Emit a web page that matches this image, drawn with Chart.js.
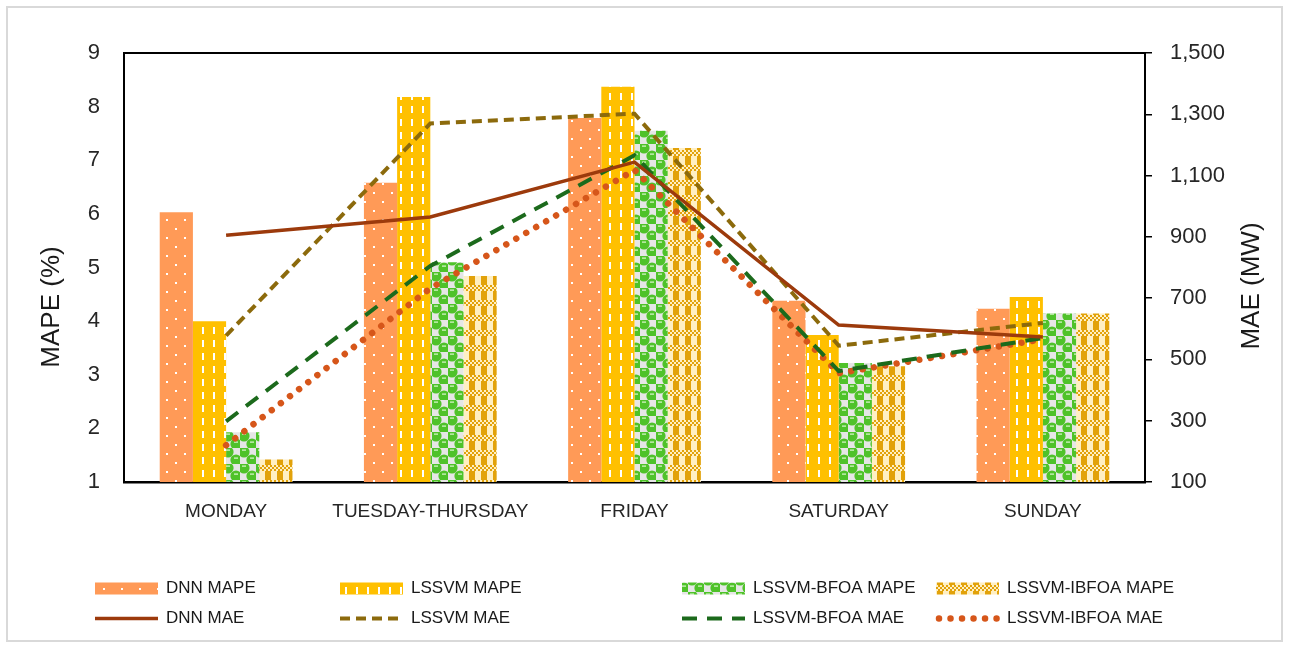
<!DOCTYPE html>
<html>
<head>
<meta charset="utf-8">
<script src="https://cdn.jsdelivr.net/npm/chart.js@4.4.1/dist/chart.umd.min.js"></script>
<style>
  html, body { margin: 0; padding: 0; background: #fff; }
  #c { display: block; }
</style>
</head>
<body>
<canvas id="c" width="1289" height="647"></canvas>
<script>
// Day-type groups
const categories = ['MONDAY', 'TUESDAY-THURSDAY', 'FRIDAY', 'SATURDAY', 'SUNDAY'];

// MAPE (%) per model
const dnnMape   = [6.03, 6.58, 7.79, 4.38, 4.23];
const lssvmMape = [4.00, 8.18, 8.37, 3.74, 4.45];
const bfoaMape  = [1.93, 5.10, 7.55, 3.22, 4.14];
const ibfoaMape = [1.42, 4.84, 7.23, 3.16, 4.14];

// MAE (MW) per model
const dnnMae   = [905, 965, 1144, 612, 573];
const lssvmMae = [578, 1270, 1302, 545, 619];
const bfoaMae  = [298, 805, 1166, 462, 570];
const ibfoaMae = [220, 732, 1118, 455, 566];

// Axis ranges
const mapeTicks = { min: 1, max: 9, step: 1 };
const maeTicks  = { min: 100, max: 1500, step: 200 };

const FONT = '"Liberation Sans", Arial, sans-serif';
const canvas = document.getElementById('c');
const ctx = canvas.getContext('2d');

function makePattern(w, h, paint) {
  const pc = document.createElement('canvas');
  pc.width = w; pc.height = h;
  paint(pc.getContext('2d'), w, h);
  return ctx.createPattern(pc, 'repeat');
}

// Orange with small white dots
const dnnFill = makePattern(18, 18, g => {
  g.fillStyle = '#FF9A57'; g.fillRect(0, 0, 18, 18);
  g.fillStyle = '#FFFFFF';
  g.fillRect(4, 3, 2, 2); g.fillRect(13, 12, 2, 2);
});
// Gold with white vertical dashes
const lssvmFill = makePattern(11, 13, g => {
  g.fillStyle = '#FFC000'; g.fillRect(0, 0, 11, 13);
  g.fillStyle = '#FFFFFF';
  g.fillRect(4, 2, 2, 7);
});
// Green spheres on a light grey checker
const bfoaFill = makePattern(16, 16, g => {
  g.fillStyle = '#E6E6E6'; g.fillRect(0, 0, 16, 16);
  g.fillStyle = '#4FC22A';
  [[4, 4], [12, 12]].forEach(([x, y]) => {
    g.beginPath(); g.arc(x, y, 5.6, 0, Math.PI * 2); g.fill();
  });
  g.fillStyle = '#DDF7D0';
  [[4, 4], [12, 12]].forEach(([x, y]) => {
    g.fillRect(x - 2, y - 2.5, 4, 1.2);
  });
});
// Gold / cream plaid
const ibfoaFill = makePattern(12, 15, g => {
  const gold = '#E2A20A', cream = '#FFEFC2';
  g.fillStyle = cream; g.fillRect(0, 0, 12, 15);
  g.fillStyle = gold; g.fillRect(1, 0, 6, 15);
  for (let x = 0; x < 12; x += 2) {
    const odd = (x / 2) % 2 === 1;
    g.fillStyle = odd ? gold : cream; g.fillRect(x, 0, 2, 2); g.fillRect(x, 4, 2, 2);
    g.fillStyle = odd ? cream : gold; g.fillRect(x, 2, 2, 2);
  }
});

const barStyle = { yAxisID: 'y', order: 2, borderWidth: 0, categoryPercentage: 0.65, barPercentage: 1.0 };
const lineStyle = { type: 'line', yAxisID: 'y1', order: 1, fill: false, tension: 0, pointRadius: 0, pointHoverRadius: 0 };

const datasets = [
  { ...barStyle, label: 'DNN MAPE', data: dnnMape, backgroundColor: dnnFill },
  { ...barStyle, label: 'LSSVM MAPE', data: lssvmMape, backgroundColor: lssvmFill },
  { ...barStyle, label: 'LSSVM-BFOA MAPE', data: bfoaMape, backgroundColor: bfoaFill },
  { ...barStyle, label: 'LSSVM-IBFOA MAPE', data: ibfoaMape, backgroundColor: ibfoaFill },
  { ...lineStyle, label: 'DNN MAE', data: dnnMae, borderColor: '#9C3A0C', borderWidth: 3.5, borderDash: [], borderCapStyle: 'butt' },
  { ...lineStyle, label: 'LSSVM MAE', data: lssvmMae, borderColor: '#8C6A0C', borderWidth: 4, borderDash: [10, 6], borderCapStyle: 'butt' },
  { ...lineStyle, label: 'LSSVM-BFOA MAE', data: bfoaMae, borderColor: '#1C6A1C', borderWidth: 4, borderDash: [15, 10], borderCapStyle: 'butt' },
  { ...lineStyle, label: 'LSSVM-IBFOA MAE', data: ibfoaMae, borderColor: '#D6561A', borderWidth: 6.5, borderDash: [0.01, 11.5], borderCapStyle: 'round' }
];

// Frame, axis titles and the two-row legend
const decorations = {
  id: 'decorations',
  beforeDraw(chart) {
    const c = chart.ctx;
    c.save();
    c.fillStyle = '#FFFFFF';
    c.fillRect(0, 0, chart.width, chart.height);
    c.strokeStyle = '#D9D9D9';
    c.lineWidth = 2;
    c.strokeRect(7, 7, chart.width - 14, chart.height - 13);
    c.restore();
  },
  afterDraw(chart) {
    const c = chart.ctx;
    const a = chart.chartArea;
    c.save();
    // top edge of the plot box
    c.strokeStyle = '#000'; c.lineWidth = 2;
    c.beginPath(); c.moveTo(a.left - 1, a.top); c.lineTo(a.right + 1, a.top); c.stroke();

    // axis titles, both reading bottom-to-top
    c.fillStyle = '#1A1A1A';
    c.font = '26px ' + FONT;
    c.textAlign = 'center'; c.textBaseline = 'middle';
    c.save(); c.translate(52, 307); c.rotate(-Math.PI / 2); c.fillText('MAPE (%)', 0, 0); c.restore();
    c.save(); c.translate(1252, 286); c.rotate(-Math.PI / 2); c.fillText('MAE (MW)', 0, 0); c.restore();

    // legend
    const colX = [95, 340, 682, 936];
    const rowY = [588.5, 618.5];
    const symW = 63;
    c.font = '17px ' + FONT;
    c.textAlign = 'left';
    chart.data.datasets.forEach((ds, i) => {
      const col = i % 4, row = Math.floor(i / 4);
      const x = colX[col], y = rowY[row];
      if (row === 0) {
        c.fillStyle = ds.backgroundColor;
        c.fillRect(x, y - 6, symW, 12);
      } else {
        c.strokeStyle = ds.borderColor;
        c.lineWidth = ds.borderWidth;
        c.lineCap = ds.borderCapStyle;
        c.setLineDash(ds.borderDash || []);
        c.beginPath(); c.moveTo(x + (ds.borderCapStyle === 'round' ? 3 : 0), y); c.lineTo(x + symW, y); c.stroke();
        c.setLineDash([]);
      }
      c.fillStyle = '#1A1A1A';
      c.fillText(ds.label, x + 71, y);
    });
    c.restore();
  }
};

new Chart(canvas, {
  type: 'bar',
  data: { labels: categories, datasets },
  plugins: [decorations],
  options: {
    responsive: false,
    animation: false,
    devicePixelRatio: 1,
    locale: 'en-US',
    layout: { padding: { top: 53, left: 0, right: 0, bottom: 0 } },
    plugins: { legend: { display: false }, tooltip: { enabled: false } },
    scales: {
      x: {
        grid: { display: false, drawTicks: false },
        border: { display: true, color: '#000', width: 2.5 },
        ticks: { color: '#262626', font: { family: FONT, size: 19 }, padding: 18, maxRotation: 0, autoSkip: false },
        afterFit(scale) { scale.height = 165; }
      },
      y: {
        position: 'left',
        min: mapeTicks.min, max: mapeTicks.max,
        grid: { display: false, drawTicks: false },
        border: { display: true, color: '#000', width: 2 },
        ticks: { stepSize: mapeTicks.step, color: '#262626', font: { family: FONT, size: 22 }, padding: 24 },
        afterFit(scale) { scale.width = 124; }
      },
      y1: {
        position: 'right',
        min: maeTicks.min, max: maeTicks.max,
        grid: { display: true, drawOnChartArea: false, drawTicks: true, tickLength: 7, color: '#000', lineWidth: 1.5 },
        border: { display: true, color: '#000', width: 2 },
        ticks: { stepSize: maeTicks.step, color: '#262626', font: { family: FONT, size: 22 }, padding: 18 },
        afterFit(scale) { scale.width = 144; }
      }
    }
  }
});
</script>
</body>
</html>
